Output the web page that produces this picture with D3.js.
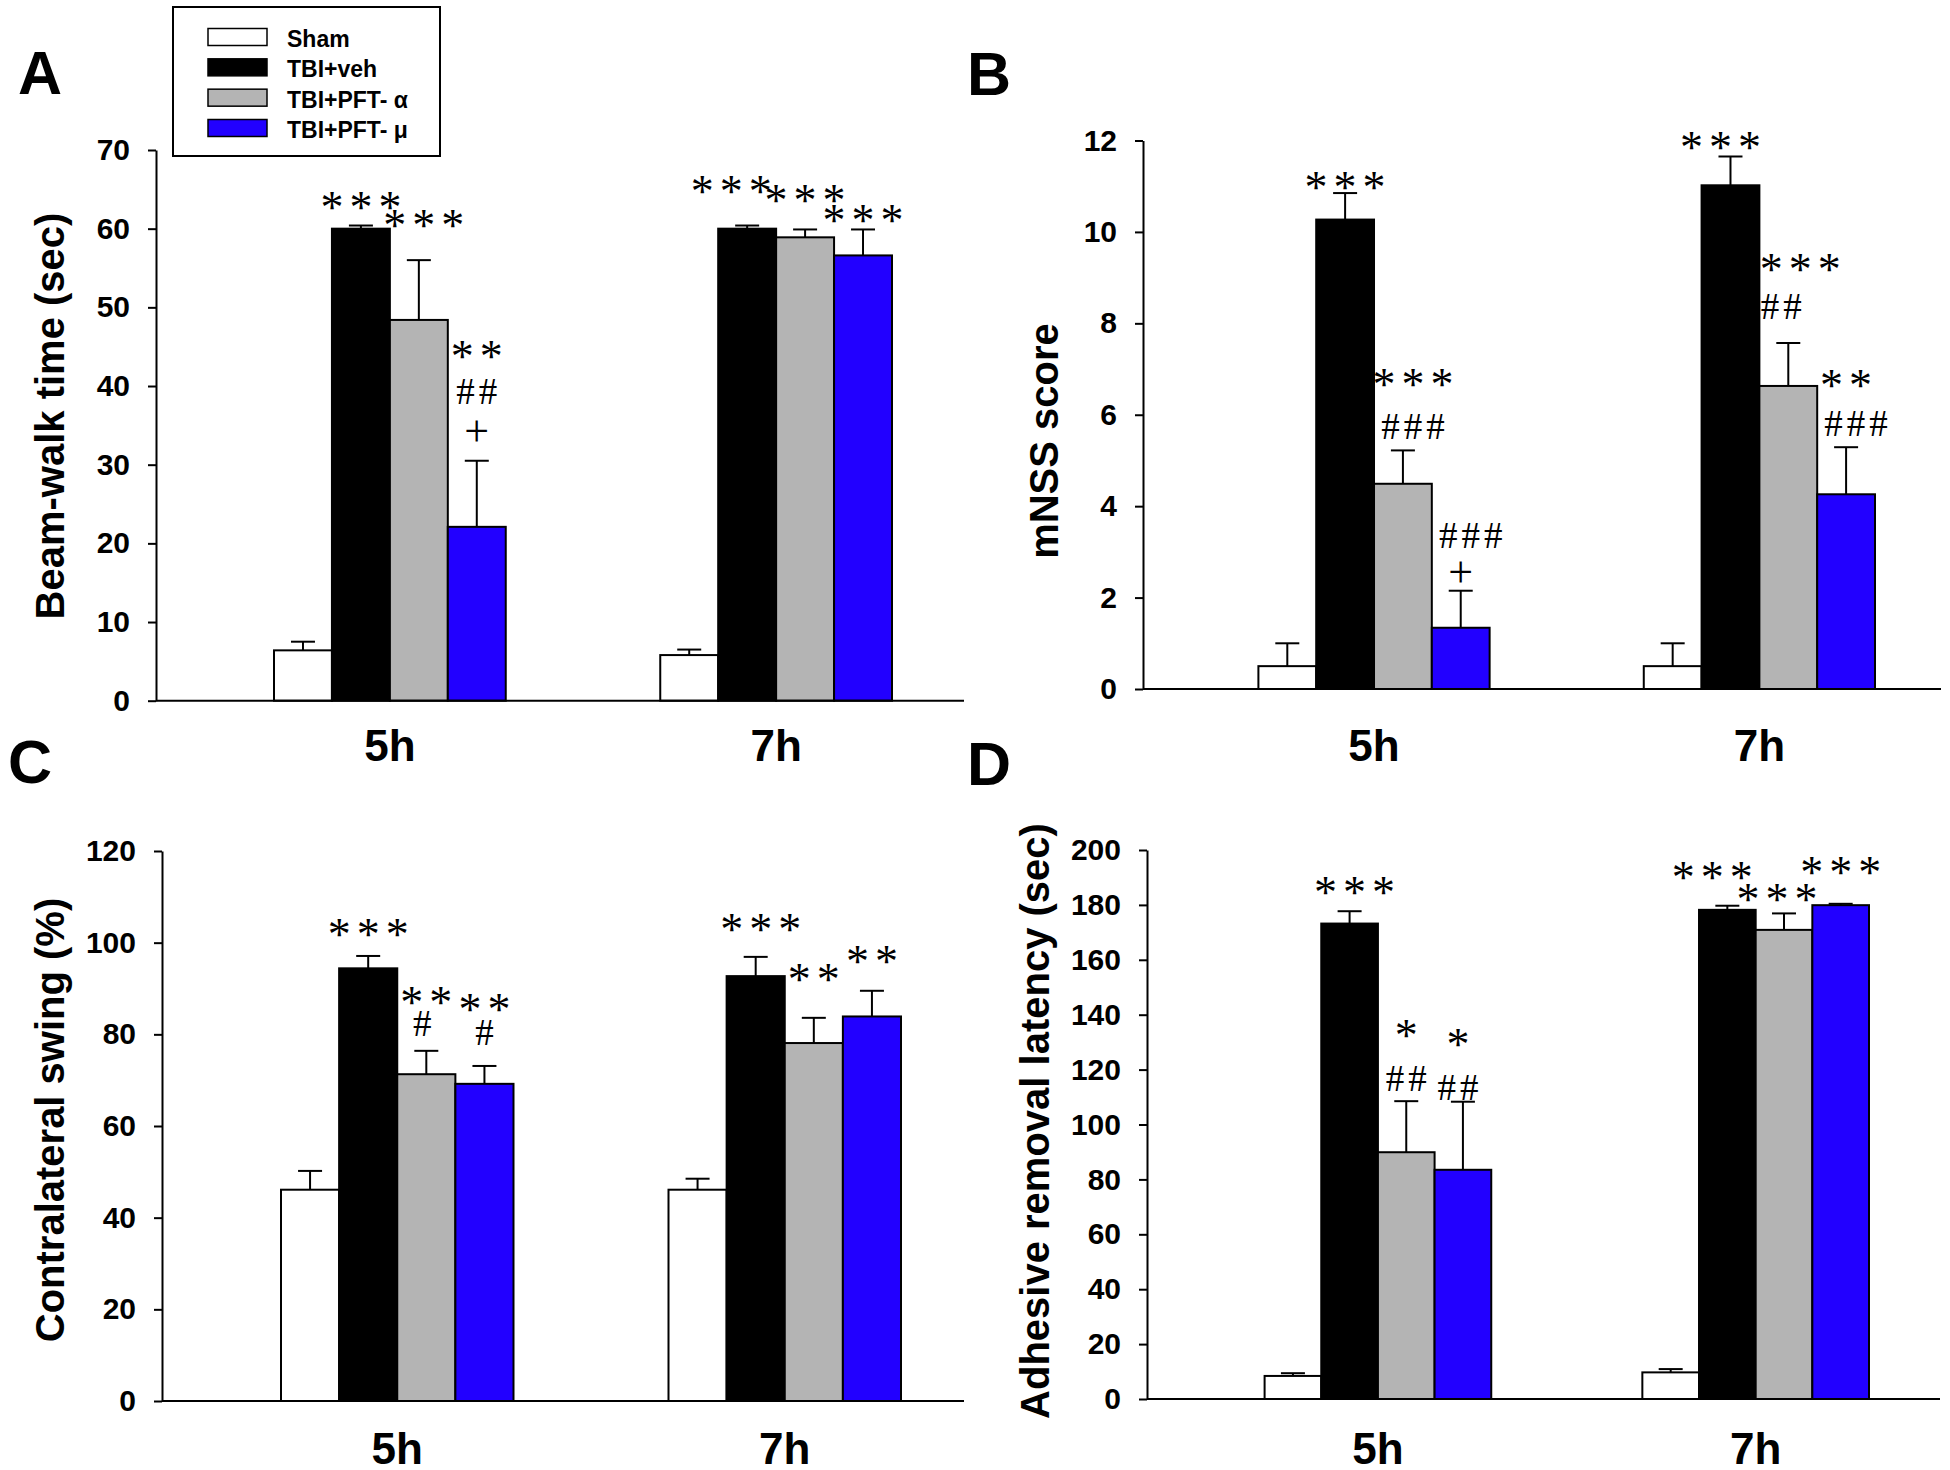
<!DOCTYPE html>
<html>
<head>
<meta charset="utf-8">
<script src="https://cdn.jsdelivr.net/npm/d3@7"></script>
<style>
  html, body { margin: 0; padding: 0; background: #fff; }
  svg { display: block; }
</style>
</head>
<body>
<svg id="chart" width="1950" height="1470"></svg>
<script>
// ---------------- DATA ----------------
const groups = ["5h", "7h"];
const series = ["Sham", "TBI+veh", "TBI+PFT- α", "TBI+PFT- μ"];

// [group][series]
const beamMean = [[6.4, 60.0, 48.4, 22.1], [5.8, 60.0, 58.9, 56.6]];
const beamErr  = [[1.1, 0.4, 7.6, 8.4],    [0.7, 0.4, 1.0, 3.3]];

const mnssMean = [[0.5, 10.27, 4.49, 1.34], [0.5, 11.02, 6.63, 4.26]];
const mnssErr  = [[0.5, 0.58, 0.73, 0.81],  [0.5, 0.63, 0.94, 1.03]];

const swingMean = [[46.1, 94.4, 71.3, 69.2], [46.1, 92.7, 78.1, 83.9]];
const swingErr  = [[4.1, 2.7, 5.1, 3.9],     [2.4, 4.2, 5.5, 5.6]];

const adhMean = [[8.4, 173.2, 89.9, 83.5], [9.7, 178.2, 170.9, 179.9]];
const adhErr  = [[1.0, 4.5, 18.6, 24.8],   [1.2, 1.5, 6.0, 0.5]];

// significance marks: [group, series, text, value (visual centre)]
const beamMarks = [
  [0, 1, "***", 63.7], [0, 2, "***", 61.4], [0, 3, "**", 44.7], [0, 3, "##", 39.3], [0, 3, "+", 34.1],
  [1, 1, "***", 65.7], [1, 2, "***", 64.5], [1, 3, "***", 62.0]
];
const mnssMarks = [
  [0, 1, "***", 11.14], [0, 2, "***", 6.83], [0, 2, "###", 5.75], [0, 3, "###", 3.36], [0, 3, "+", 2.53],
  [1, 1, "***", 12.02], [1, 2, "***", 9.35], [1, 2, "##", 8.38], [1, 3, "**", 6.81], [1, 3, "###", 5.8]
];
const swingMarks = [
  [0, 1, "***", 103.5], [0, 2, "**", 88.5], [0, 2, "#", 82.4], [0, 3, "**", 87.0], [0, 3, "#", 80.4],
  [1, 1, "***", 104.5], [1, 2, "**", 93.5], [1, 3, "**", 97.5]
];
const adhMarks = [
  [0, 1, "***", 187.1], [0, 2, "*", 135.2], [0, 2, "##", 116.8], [0, 3, "*", 131.8], [0, 3, "##", 113.5],
  [1, 1, "***", 192.6], [1, 2, "***", 184.6], [1, 3, "***", 194.6]
];

const yTitles = ["Beam-walk time (sec)", "mNSS score", "Contralateral swing (%)", "Adhesive removal latency (sec)"];
const panelLetters = ["A", "B", "C", "D"];
const yMaxes = [70, 12, 120, 200];
const yStepTicks = [10, 2, 20, 20];

// ---------------- STYLE / LAYOUT ----------------
const fills = ["#ffffff", "#000000", "#b4b4b4", "#2200ff"];
const SANS = "'Liberation Sans', Arial, Helvetica, sans-serif";
const SERIF = "'Liberation Serif', 'Times New Roman', serif";

const layout = [
  { axisX: 156, xEnd: 964,  y0: 700.7, yTop: 150.0, bars: [274, 892],    labelY: 761,  titleX: 64,   titleY: 416,  letterX: 18,  letterY: 94 },
  { axisX: 1143, xEnd: 1941, y0: 689.0, yTop: 140.5, bars: [1258.4, 1875], labelY: 761, titleX: 1058, titleY: 441,  letterX: 967, letterY: 95 },
  { axisX: 162, xEnd: 964,  y0: 1401,  yTop: 851,   bars: [281, 901],    labelY: 1464, titleX: 64,   titleY: 1120, letterX: 8,   letterY: 783 },
  { axisX: 1147, xEnd: 1940, y0: 1399, yTop: 850,   bars: [1264.6, 1869], labelY: 1464, titleX: 1049, titleY: 1121, letterX: 967, letterY: 785 }
];
// horizontal nudges (px) of individual marks, by panel and mark index
const markNudge = [
  { 1: 5, 5: -16 },
  { 1: 10, 2: 10, 3: 10, 5: -10, 6: 12, 7: -7, 9: 10 },
  { 2: -4, 5: 5 },
  { 0: 5, 3: -5, 4: -5, 5: -15, 6: -7 }
];

const means = [beamMean, mnssMean, swingMean, adhMean];
const errs = [beamErr, mnssErr, swingErr, adhErr];
const marks = [beamMarks, mnssMarks, swingMarks, adhMarks];

const svg = d3.select("#chart");
svg.append("rect").attr("width", 1950).attr("height", 1470).attr("fill", "#fff");

function markStyle(t) {
  const c = t[0];
  if (c === "*") return { size: 46, ls: 6, shift: 0.50 };
  if (c === "#") return { size: 37, ls: 4, shift: 0.34 };
  return { size: 44, ls: 0, shift: 0.30 };
}

layout.forEach((L, pi) => {
  const g = svg.append("g");
  const y = d3.scaleLinear().domain([0, yMaxes[pi]]).range([L.y0, L.yTop]);
  const xg = d3.scaleBand().domain(groups).range(L.bars).paddingInner(0.4).paddingOuter(0);
  const xs = d3.scaleBand().domain(series).range([0, xg.bandwidth()]).padding(0);

  const rows = [];
  groups.forEach((gr, gi) => series.forEach((s, si) => {
    rows.push({ gr, s, si, m: means[pi][gi][si], e: errs[pi][gi][si] });
  }));

  // error bars
  const eb = g.append("g").attr("stroke", "#000").attr("stroke-width", 2);
  rows.forEach(r => {
    const cx = xg(r.gr) + xs(r.s) + xs.bandwidth() / 2;
    eb.append("line").attr("x1", cx).attr("x2", cx).attr("y1", y(r.m)).attr("y2", y(r.m + r.e));
    eb.append("line").attr("x1", cx - 12).attr("x2", cx + 12).attr("y1", y(r.m + r.e)).attr("y2", y(r.m + r.e));
  });

  // bars
  g.append("g").selectAll("rect").data(rows).join("rect")
    .attr("x", r => xg(r.gr) + xs(r.s))
    .attr("y", r => y(r.m))
    .attr("width", xs.bandwidth())
    .attr("height", r => y(0) - y(r.m))
    .attr("fill", r => fills[r.si])
    .attr("stroke", "#000")
    .attr("stroke-width", 2);

  // y axis
  const ticks = d3.range(0, yMaxes[pi] + 0.001, yStepTicks[pi]);
  const ay = g.append("g").attr("transform", `translate(${L.axisX},0)`)
    .call(d3.axisLeft(y).tickValues(ticks).tickSize(8).tickSizeOuter(0).tickPadding(18).tickFormat(d3.format("d")));
  ay.select(".domain").attr("stroke", "#000").attr("stroke-width", 2);
  ay.selectAll(".tick line").attr("stroke", "#000").attr("stroke-width", 2);
  ay.selectAll(".tick text").attr("font-family", SANS).attr("font-weight", "bold")
    .attr("font-size", 30).attr("fill", "#000");

  // x axis line
  g.append("line").attr("x1", L.axisX).attr("x2", L.xEnd).attr("y1", y(0)).attr("y2", y(0))
    .attr("stroke", "#000").attr("stroke-width", 2);

  // group labels
  g.append("g").selectAll("text").data(groups).join("text")
    .attr("x", d => xg(d) + xg.bandwidth() / 2)
    .attr("y", L.labelY)
    .attr("text-anchor", "middle")
    .attr("font-family", SANS).attr("font-weight", "bold").attr("font-size", 44)
    .text(d => d);

  // y title
  g.append("text")
    .attr("transform", `translate(${L.titleX},${L.titleY}) rotate(-90)`)
    .attr("text-anchor", "middle")
    .attr("font-family", SANS).attr("font-weight", "bold").attr("font-size", 40)
    .text(yTitles[pi]);

  // panel letter
  g.append("text").attr("x", L.letterX).attr("y", L.letterY)
    .attr("font-family", SANS).attr("font-weight", "bold").attr("font-size", 61)
    .text(panelLetters[pi]);

  // significance marks
  marks[pi].forEach(([gi, si, t, v], mi) => {
    const st = markStyle(t);
    const cx = xg(groups[gi]) + xs(series[si]) + xs.bandwidth() / 2 + (markNudge[pi][mi] || 0);
    g.append("text")
      .attr("x", cx + st.ls / 2)
      .attr("y", y(v) + st.shift * st.size)
      .attr("text-anchor", "middle")
      .attr("font-family", SERIF)
      .attr("font-size", st.size)
      .attr("letter-spacing", st.ls)
      .text(t);
  });
});

// legend
const lg = svg.append("g");
lg.append("rect").attr("x", 173).attr("y", 7).attr("width", 267).attr("height", 149)
  .attr("fill", "#fff").attr("stroke", "#000").attr("stroke-width", 2);
const legY = d3.scalePoint().domain(series).range([37, 128]);
lg.selectAll("rect.sw").data(series).join("rect").attr("class", "sw")
  .attr("x", 208).attr("y", d => legY(d) - 8.5).attr("width", 59).attr("height", 17)
  .attr("fill", (d, i) => fills[i]).attr("stroke", "#000").attr("stroke-width", 1.5);
lg.selectAll("text").data(series).join("text")
  .attr("x", 287).attr("y", d => legY(d) + 10)
  .attr("font-family", SANS).attr("font-weight", "bold").attr("font-size", 23)
  .text(d => d);
</script>
</body>
</html>
